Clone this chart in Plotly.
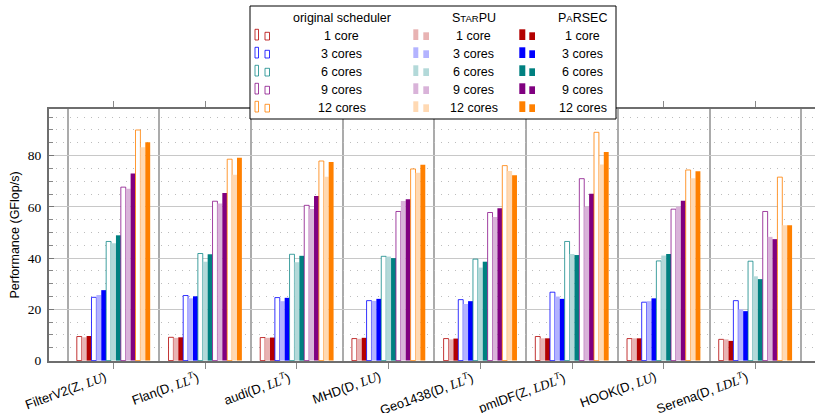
import plotly.graph_objects as go

# ---------------- data ----------------
matrices = [
    "FilterV2(Z, {LU})", "Flan(D, {LLT})", "audi(D, {LLT})", "MHD(D, {LU})",
    "Geo1438(D, {LLT})", "pmlDF(Z, {LDLT})", "HOOK(D, {LU})", "Serena(D, {LDLT})",
]
core_counts = ["1 core", "3 cores", "6 cores", "9 cores", "12 cores"]
schedulers = ["original scheduler", "StarPU", "PaRSEC"]

# values per scheduler / core count -> list over matrices (GFlop/s)
original_1 = [9.4, 9.1, 9.0, 8.6, 8.6, 9.4, 8.6, 8.3]
starpu_1 = [9.1, 8.9, 8.9, 8.5, 8.3, 8.7, 8.7, 8.3]
parsec_1 = [9.6, 9.1, 9.0, 8.9, 8.6, 8.7, 8.7, 7.7]

original_3 = [24.7, 25.4, 24.6, 23.4, 23.8, 26.7, 22.8, 23.4]
starpu_3 = [25.6, 24.3, 23.2, 23.3, 22.1, 25.0, 23.2, 20.0]
parsec_3 = [27.5, 25.1, 24.5, 24.1, 23.2, 24.1, 24.3, 19.3]

original_6 = [46.5, 41.8, 41.5, 40.7, 39.6, 46.5, 38.9, 38.8]
starpu_6 = [45.8, 38.6, 38.4, 40.6, 36.3, 41.6, 41.0, 32.9]
parsec_6 = [48.9, 41.5, 40.9, 40.0, 38.6, 41.2, 41.6, 31.8]

original_9 = [67.7, 62.2, 60.6, 58.2, 57.8, 71.0, 59.1, 58.2]
starpu_9 = [67.1, 61.3, 59.2, 62.3, 56.0, 60.1, 60.1, 48.3]
parsec_9 = [73.0, 65.4, 64.2, 63.0, 59.5, 65.1, 62.4, 47.4]

original_12 = [90.0, 78.6, 77.9, 74.8, 76.1, 89.1, 74.4, 71.6]
starpu_12 = [83.3, 72.5, 71.8, 73.3, 74.0, 76.5, 71.2, 52.8]
parsec_12 = [85.2, 79.2, 77.5, 76.4, 72.3, 81.4, 73.9, 52.8]

series = [
    (original_1, starpu_1, parsec_1),
    (original_3, starpu_3, parsec_3),
    (original_6, starpu_6, parsec_6),
    (original_9, starpu_9, parsec_9),
    (original_12, starpu_12, parsec_12),
]

y_ticks = [0, 20, 40, 60, 80]

# ---------------- styles ----------------
dark = ["#B30000", "#0000FF", "#008080", "#800080", "#FF8000"]
light = ["#E8B3B3", "#B3B3FF", "#B3D9D9", "#D9B3D9", "#FFD9B3"]
outline = ["rgba(179,0,0,0.8)", "rgba(0,0,255,0.8)", "rgba(0,128,128,0.75)",
           "rgba(128,0,128,0.75)", "rgba(255,128,0,0.8)"]

W, H = 815, 413
L, R, T, B = 49, 0, 109, 52
PW, PH = W - L - R, H - T - B
PX_PER_CAT = 91.7
PX_PER_UNIT = 2.5625

SANS = "Liberation Sans, Arial, Helvetica, sans-serif"
SERIF = "Liberation Serif, Times New Roman, serif"


def math(s):
    m = {"LU": "<i>LU</i>", "LLT": "<i>LL</i><sup><i>T</i></sup>",
         "LDLT": "<i>LDL</i><sup><i>T</i></sup>"}
    out = s
    for k in ["LDLT", "LLT", "LU"]:
        out = out.replace("{" + k + "}",
                          "<span style='font-family:Liberation Serif'>" + m[k] + "</span>")
    return out


tick_text = [math(m) for m in matrices]
xs = list(range(len(matrices)))

fig = go.Figure()
for ci, (orig, stp, par) in enumerate(series):
    fig.add_trace(go.Bar(x=xs, y=orig, name=f"original {core_counts[ci]}",
                         marker=dict(color="white", line=dict(color=outline[ci], width=1))))
    fig.add_trace(go.Bar(x=xs, y=stp, name=f"StarPU {core_counts[ci]}",
                         marker=dict(color=light[ci], line=dict(width=0))))
    fig.add_trace(go.Bar(x=xs, y=par, name=f"PaRSEC {core_counts[ci]}",
                         marker=dict(color=dark[ci], line=dict(width=0))))

x0 = -64.5 / PX_PER_CAT
x1 = x0 + PW / PX_PER_CAT
y0 = -0.15
y1 = y0 + PH / PX_PER_UNIT

fig.update_layout(
    width=W, height=H,
    margin=dict(l=L, r=R, t=T, b=B, pad=0, autoexpand=False),
    paper_bgcolor="white", plot_bgcolor="white",
    barmode="group", bargap=0.2, bargroupgap=0,
    showlegend=False,
    font=dict(family=SANS, size=12, color="black"),
)

fig.update_xaxes(
    range=[x0, x1], tickmode="array", tickvals=xs, ticktext=[""] * len(xs),
    automargin=False,
    showgrid=False, zeroline=False,
    showline=True, linecolor="#6e6e6e", linewidth=2, mirror="allticks",
    ticks="outside", ticklen=6, tickcolor="#888888", tickwidth=1,
    minor=dict(tickmode="array", tickvals=[i - 0.5 for i in range(len(matrices) + 1)],
               showgrid=True, gridcolor="#ababab", gridwidth=1.5, ticks=""),
)

fig.update_yaxes(
    range=[y0, y1], tickmode="array", tickvals=y_ticks,
    automargin=False,
    tickfont=dict(family=SERIF, size=13.5, color="black"),
    showgrid=True, gridcolor="#c8c8c8", gridwidth=1.3, zeroline=False,
    showline=True, linecolor="#6e6e6e", linewidth=2, mirror=False,
    ticks="inside", ticklen=5, tickcolor="#777777",
    ticklabelstandoff=3,
    title=dict(text="Performance (GFlop/s)", font=dict(family=SANS, size=12.5),
               standoff=5),
    minor=dict(dtick=5, tick0=0, showgrid=True, gridcolor="#bdbdbd",
               griddash="1px,6px", gridwidth=1, ticks="inside", ticklen=4,
               tickcolor="#888888"),
)


def px(x):
    return (x - L) / PW


def py(y):
    return (H - B - y) / PH


shapes = []
annotations = []

# category labels (rotated, end-anchored at the ticks)
for xi, txt in zip(xs, tick_text):
    annotations.append(dict(xref="x", yref="paper", x=xi, xshift=-2.5, y=py(366),
                            text=txt, showarrow=False, textangle=-20,
                            xanchor="right", yanchor="top",
                            font=dict(family=SANS, size=13, color="black")))

# legend box
shapes.append(dict(type="rect", xref="paper", yref="paper",
                   x0=px(250), x1=px(616), y0=py(119), y1=py(6),
                   fillcolor="white", line=dict(color="black", width=1), layer="above"))

header_y = 18.5
row_y = [36, 54, 72, 90, 108]
col_text_x = [341.5, 473.5, 582.5]
headers = ["original scheduler",
           "S<span style='font-size:9.5px'>TAR</span>PU",
           "P<span style='font-size:9.5px'>A</span>RSEC"]
for cx, htxt in zip(col_text_x, headers):
    annotations.append(dict(xref="paper", yref="paper", x=px(cx), y=py(header_y),
                            text=htxt, showarrow=False, xanchor="center", yanchor="middle",
                            font=dict(family=SANS, size=12.5, color="black")))

icon_x = [(255, 258.5, 265, 269.5), (413.3, 418.3, 423.3, 429), (519.3, 525.3, 529.3, 535)]
for ri, (yc, lab) in enumerate(zip(row_y, core_counts)):
    for si in range(3):
        annotations.append(dict(xref="paper", yref="paper", x=px(col_text_x[si]), y=py(yc),
                                text=lab, showarrow=False, xanchor="center", yanchor="middle",
                                font=dict(family=SANS, size=12.5, color="black")))
        a, b_, c, d = icon_x[si]
        if si == 0:
            fill, lc, lw = "white", outline[ri], 1
        elif si == 1:
            fill, lc, lw = light[ri], light[ri], 0
        else:
            fill, lc, lw = dark[ri], dark[ri], 0
        shapes.append(dict(type="rect", xref="paper", yref="paper",
                           x0=px(a), x1=px(b_), y0=py(yc + 4), y1=py(yc - 6.7),
                           fillcolor=fill, line=dict(color=lc, width=lw), layer="above"))
        shapes.append(dict(type="rect", xref="paper", yref="paper",
                           x0=px(c), x1=px(d), y0=py(yc + 4), y1=py(yc - 3.7),
                           fillcolor=fill, line=dict(color=lc, width=lw), layer="above"))

fig.update_layout(shapes=shapes, annotations=annotations)
fig.write_html(
    "out.html",
    config={"displayModeBar": False},
    post_script="document.body.style.margin='0';document.body.style.overflow='hidden';",
)
